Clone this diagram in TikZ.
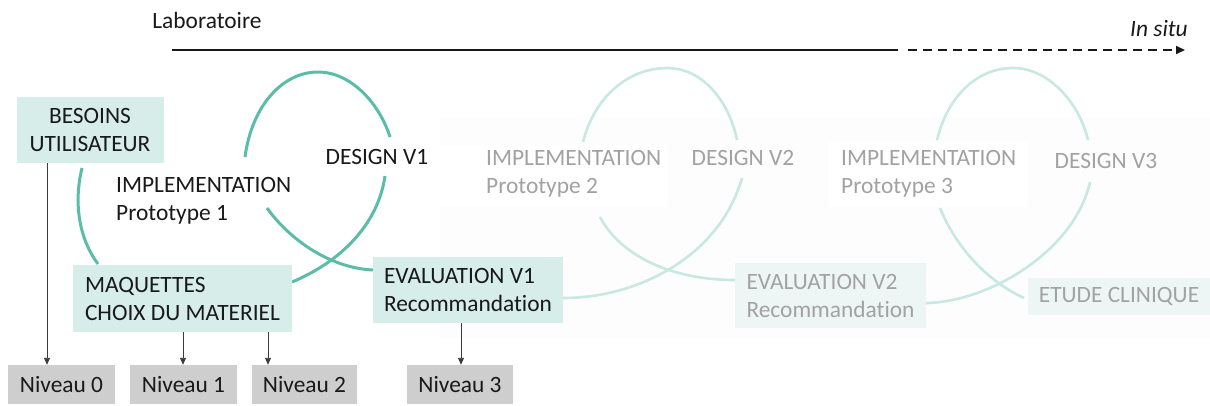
\documentclass[tikz,border=0pt]{standalone}
\usepackage{fontspec}
\setmainfont{Carlito}[Ligatures=NoCommon]
\usetikzlibrary{arrows.meta}
\definecolor{teal1}{RGB}{92,188,170}
\definecolor{teal2}{RGB}{200,232,226}
\definecolor{boxfill}{RGB}{214,237,233}
\definecolor{boxfaint}{RGB}{237,246,244}
\definecolor{txtdark}{RGB}{25,25,25}
\definecolor{txtfaint}{RGB}{162,162,162}
\definecolor{nivfill}{RGB}{206,206,206}
\definecolor{bgfaint}{RGB}{253,253,253}
\definecolor{arrgray}{RGB}{60,60,60}
\tikzset{
  lbl/.style={font=\fontsize{23.4}{28}\selectfont, text=txtdark, inner sep=0pt},
  lblfaint/.style={lbl, text=txtfaint},
  tealbox/.style={lbl, fill=boxfill, minimum height=#1},
  faintbox/.style={lblfaint, fill=boxfaint, minimum height=#1},
  nivbox/.style={lbl, fill=nivfill, minimum width=106pt, minimum height=39pt},
  loopline/.style={draw=teal1, line width=3pt},
  loopfaint/.style={draw=teal2, line width=2.6pt},
  niv/.style={draw=arrgray, line width=0.9pt, -{Triangle[length=7pt,width=6pt]}},
}
\begin{document}
\begin{tikzpicture}[x=1pt,y=-1pt]
\useasboundingbox (0,0) rectangle (1210,405);
\fill[white] (0,0) rectangle (1210,405);
% faint background
\fill[bgfaint] (440,118) rectangle (1210,338);
\fill[white] (440,145) rectangle (668,207);
\fill[white] (828,142) rectangle (1028,207);

% top timeline
\node[lbl, anchor=center] (lab) at (207,20) {Laboratoire};
\node[lbl, anchor=center, font=\fontsize{23.4}{28}\selectfont\itshape] (situ) at (1159,29) {In situ};
\coordinate (t0) at (172,50);
\coordinate (t1) at (898,50);
\coordinate (t2) at (908,50);
\coordinate (t3) at (1185,50);
\draw[line width=2pt, txtdark] (t0) -- (t1);
\draw[line width=2pt, txtdark, dash pattern=on 9pt off 6pt, -{Triangle[length=9pt,width=8pt]}] (t2) -- (t3);

% loop 1
\draw[loopline] (82,168) .. controls (73,205) and (80,240) .. (98,264);
\draw[loopline] (245,157) .. controls (252,105) and (283,72) .. (318,72)
                .. controls (352,72) and (380,105) .. (390,137);
\draw[loopline] (385,176) .. controls (378,225) and (340,262) .. (292,282);
\draw[loopline] (267,208) .. controls (290,240) and (330,268) .. (373,270);

% loop 2
\draw[loopfaint] (563,298) .. controls (640,298) and (720,255) .. (742,178);
\draw[loopfaint] (583,142) .. controls (595,95) and (630,68) .. (667,68)
                 .. controls (705,68) and (730,105) .. (737,140);
\draw[loopfaint] (600,217) .. controls (620,255) and (670,280) .. (735,280);

% loop 3
\draw[loopfaint] (926,303) .. controls (990,302) and (1075,250) .. (1090,182);
\draw[loopfaint] (937,140) .. controls (948,95) and (978,68) .. (1013,68)
                 .. controls (1050,68) and (1080,105) .. (1088,140);
\draw[loopfaint] (940,208) .. controls (955,245) and (985,280) .. (1024,298);

% boxes
\node[tealbox=66pt, minimum width=147pt, align=center] (bes) at (90,130) {BESOINS\\UTILISATEUR};
\node[tealbox=67pt, minimum width=219pt, align=left] (maq) at (182.5,298.5) {MAQUETTES\\CHOIX DU MATERIEL};
\node[tealbox=66pt, minimum width=190pt, align=left] (ev1) at (468,290) {EVALUATION V1\\Recommandation};
\node[faintbox=65pt, minimum width=191pt, align=left] (ev2) at (830.5,295.5) {EVALUATION V2\\Recommandation};
\node[faintbox=37pt, minimum width=182pt, align=center] (etu) at (1119,296.5) {ETUDE CLINIQUE};

% loop labels
\node[lbl, anchor=west, align=left] (imp1) at (116,201) {IMPLEMENTATION\\Prototype 1};
\node[lbl] (des1) at (377,157) {DESIGN V1};
\node[lblfaint, anchor=west, align=left] (imp2) at (486,174) {IMPLEMENTATION\\Prototype 2};
\node[lblfaint] (des2) at (743,158) {DESIGN V2};
\node[lblfaint, anchor=west, align=left] (imp3) at (841,174) {IMPLEMENTATION\\Prototype 3};
\node[lblfaint] (des3) at (1106,161) {DESIGN V3};

% niveau boxes
\node[nivbox, minimum width=107pt] (n0) at (61.5,384.5) {Niveau 0};
\node[nivbox, minimum width=107pt] (n1) at (183.5,384.5) {Niveau 1};
\node[nivbox, minimum width=105pt] (n2) at (304.5,384.5) {Niveau 2};
\node[nivbox, minimum width=106pt] (n3) at (460,384.5) {Niveau 3};

% connectors
\coordinate (x0) at (47,0);
\coordinate (x1) at (183,0);
\coordinate (x2) at (268,0);
\coordinate (x3) at (461,0);
\draw[niv] (bes.south -| x0) -- (n0.north -| x0);
\draw[niv] (maq.south -| x1) -- (n1.north -| x1);
\draw[niv] (maq.south -| x2) -- (n2.north -| x2);
\draw[niv] (ev1.south -| x3) -- (n3.north -| x3);
\end{tikzpicture}
\end{document}
